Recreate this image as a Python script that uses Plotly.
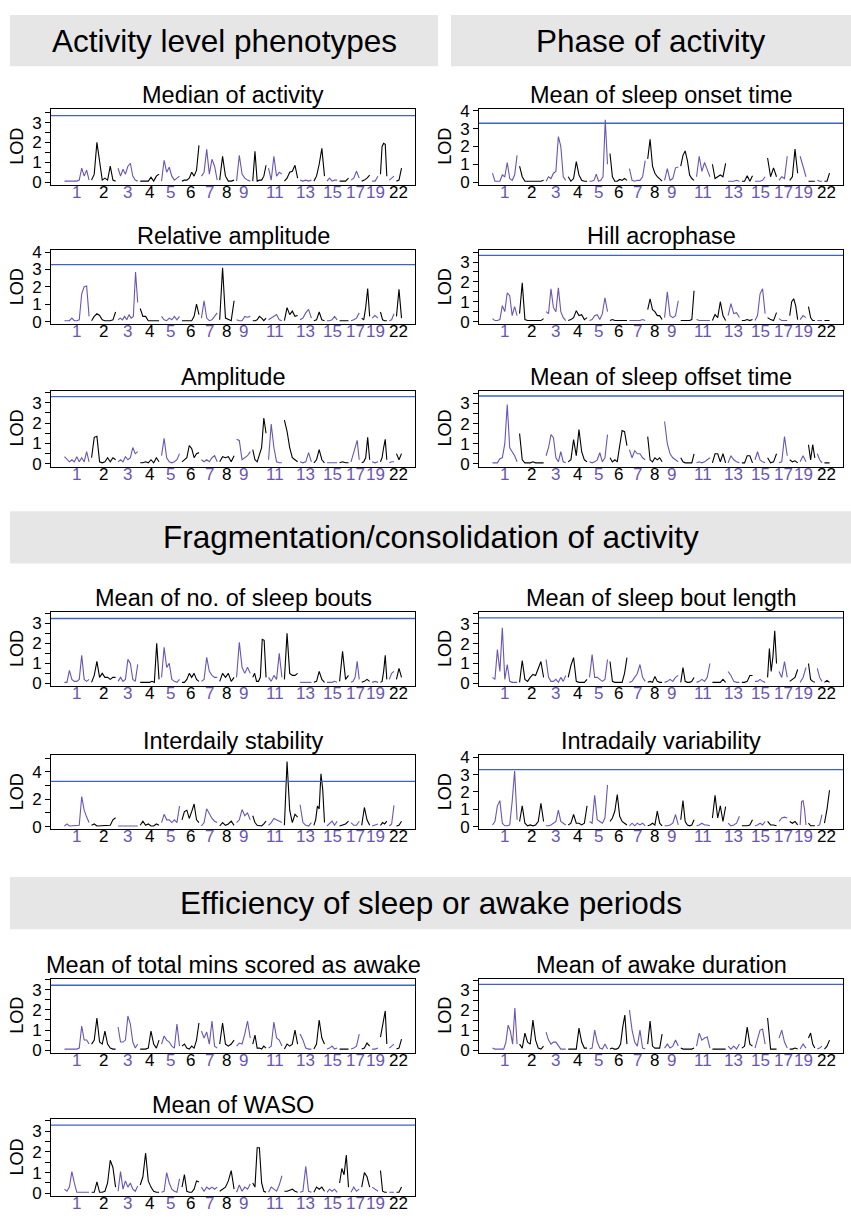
import plotly.graph_objects as go
import numpy as np

# ---------------- data ----------------
chrom_names = [str(i) for i in range(1, 23)]
chrom_len = [248, 242, 198, 190, 181, 171, 159, 145, 138, 134, 135, 133,
             114, 107, 102, 90, 83, 80, 59, 64, 47, 51]
shown_labels = ["1", "2", "3", "4", "5", "6", "7", "8", "9", "11", "13",
                "15", "17", "19", "22"]
GAP = 25

median_activity = [
    [0.05,0.05,0.05,0.05,0.05,0.05,0.1,0.7,0.3,0.6,0.1],
    [0.1,0.4,2.0,0.9,0.1,0.2,0.1,0.8,0.1,0.05],
    [0.7,0.3,0.65,0.4,0.8,0.95,0.3,0.1,0.05],
    [0.05,0.05,0.05,0.05,0.25,0.05,0.3,0.4],
    [0.05,1.1,0.5,0.75,0.3,0.1,0.2,0.3],
    [0.05,0.1,0.1,0.2,0.5,0.3,0.6,1.85],
    [0.3,0.5,1.65,0.4,1.15,0.8,0.1],
    [0.1,1.3,0.3,0.05,0.05,0.1],
    [0.05,1.35,0.4,0.2,0.1,0.05],
    [0.05,1.55,0.05,0.1,0.1,0.3,0.85],
    [0.7,0.1,1.3,0.3,0.5,0.4],
    [0.05,0.2,0.5,0.55,0.85,0.2],
    [0.1,0.05,0.1,0.05,0.1],
    [0.05,0.3,0.9,1.7,0.3],
    [0.05,0.2,0.05,0.1,0.1],
    [0.05,0.05,0.05,0.2],
    [0.1,0.2,0.55,0.2],
    [0.05,0.1,0.2,0.35],
    [0.05,0.05,0.3],
    [0.4,1.8,1.95,1.9,0.3],
    [0.1,0.2,0.3],
    [0.05,0.1,0.7],
]

sleep_onset = [
    [0.5,0.05,0.05,0.05,0.4,0.3,1.1,0.2,0.1,0.4,1.5],
    [0.9,0.3,0.05,0.05,0.05,0.05,0.05,0.05,0.05,0.1],
    [0.05,0.3,0.2,0.5,0.6,2.55,2.0,0.3,0.1],
    [0.3,0.05,0.2,1.15,0.4,0.1,0.05,0.05],
    [0.05,0.05,0.1,0.45,0.05,0.1,0.3,3.5,1.0],
    [1.6,0.3,0.05,0.05,0.15,0.1,0.2,0.1],
    [0.75,0.1,0.05,0.1,0.1,0.3,1.2],
    [1.3,2.4,0.9,0.5,0.3,0.2,0.05],
    [0.1,0.75,0.1,0.2,0.8,0.85],
    [0.9,1.5,1.75,1.2,0.4,0.2,0.1],
    [0.3,1.45,0.6,1.1,0.7,0.3],
    [1.0,0.2,0.3,0.4,0.3,1.05],
    [0.05,0.05,0.05,0.1,0.05],
    [0.05,0.05,0.35,0.05,0.35],
    [0.05,0.05,0.05,0.1,0.3],
    [1.35,0.3,0.8,0.3],
    [0.1,0.3,0.2,1.45],
    [0.1,0.3,1.85,0.5],
    [1.45,0.8,0.3],
    [0.05,0.05,0.05,0.05],
    [0.1,0.05,0.05],
    [0.05,0.05,0.5],
]

relative_amplitude = [
    [0.05,0.05,0.05,0.2,0.05,0.05,0.1,1.6,2.0,2.05,0.3],
    [0.05,0.3,0.45,0.35,0.1,0.05,0.05,0.05,0.1,0.55],
    [0.1,0.2,0.1,0.3,0.1,0.4,0.2,0.3,2.85,1.1],
    [0.75,0.3,0.3,0.05,0.05,0.05,0.05,0.05],
    [0.3,0.1,0.05,0.2,0.1,0.3,0.1,0.3],
    [0.05,0.05,0.05,0.05,0.05,0.3,1.0,0.4],
    [0.2,1.2,0.2,0.05,0.1,0.3,0.5],
    [0.1,3.1,0.2,0.1,0.05,1.2],
    [0.1,0.05,0.05,0.3,0.25,0.3],
    [0.05,0.05,0.1,0.3,0.2,0.05,0.2],
    [0.1,0.2,0.3,0.4,0.1,0.05],
    [0.05,0.8,0.4,0.6,0.3,0.35],
    [0.1,0.2,0.5,0.7,0.2],
    [0.05,0.1,0.55,0.1,0.05],
    [0.05,0.05,0.1,0.3,0.1],
    [0.05,0.05,0.05,0.05],
    [0.05,0.1,0.2,0.5],
    [0.2,0.1,0.8,1.9,0.3],
    [0.2,0.35,0.2],
    [0.55,0.1,0.05,0.05],
    [0.05,0.1,0.45],
    [0.3,1.85,0.2],
]

hill_acrophase = [
    [0.15,0.05,0.05,0.1,0.8,0.5,1.45,1.3,0.3,0.75,0.3],
    [0.4,1.95,0.1,0.05,0.05,0.05,0.05,0.05,0.05,0.15],
    [0.5,0.4,1.65,0.7,0.5,1.7,0.5,0.2,0.05],
    [0.05,0.1,0.2,0.55,0.3,0.35,0.1,0.2],
    [0.05,0.1,0.3,0.35,0.1,0.4,1.2,0.5],
    [0.05,0.1,0.05,0.05,0.05,0.05,0.05,0.05],
    [0.05,0.05,0.05,0.05,0.05,0.1,0.05],
    [0.6,1.15,0.6,0.5,0.3,0.3,0.1],
    [0.2,1.5,0.3,0.2,0.3,1.05],
    [0.05,0.05,0.05,0.05,0.05,0.1,1.55],
    [0.1,0.05,0.05,0.05,0.05,0.05],
    [0.05,0.35,0.2,1.0,0.3,0.05],
    [0.3,0.9,0.4,0.45,0.2],
    [0.05,0.05,0.1,0.05,0.1],
    [0.05,0.3,1.4,1.65,0.4],
    [0.2,0.1,0.05,0.45],
    [0.15,0.05,0.05,0.05],
    [0.3,1.0,1.15,0.8,0.1],
    [0.1,0.3,0.2],
    [0.75,0.2,0.05,0.05],
    [0.05,0.05,0.05],
    [0.05,0.05,0.05],
]

amplitude = [
    [0.35,0.2,0.1,0.2,0.1,0.35,0.1,0.3,0.1,0.6,0.1],
    [0.3,1.3,1.35,0.1,0.05,0.1,0.3,0.1,0.3,0.2],
    [0.1,0.2,0.1,0.35,0.2,0.3,0.8,0.5,0.6],
    [0.05,0.05,0.1,0.05,0.2,0.05,0.3,0.1],
    [0.4,1.25,0.3,0.1,0.05,0.1,0.2,0.5],
    [0.1,0.2,0.3,0.9,0.75,0.3,0.5,0.55],
    [0.2,0.1,0.2,0.1,0.3,0.4,0.1],
    [0.1,0.35,0.3,0.35,0.1,0.4],
    [1.2,1.15,0.2,0.3,0.4,0.6],
    [0.7,0.2,0.1,0.4,0.8,2.25,1.5],
    [0.2,1.95,0.8,0.1,0.05,0.05],
    [2.15,1.6,0.8,0.3,0.2,0.1],
    [0.1,0.05,0.1,0.55,0.1],
    [0.05,0.2,0.7,0.2,0.05],
    [0.05,0.05,0.05,0.05,0.05],
    [0.05,0.1,0.05,0.05],
    [0.1,0.4,0.8,1.15,0.2],
    [0.05,0.1,0.3,1.3,0.2],
    [0.1,0.05,0.1],
    [0.1,0.3,0.8,1.2,0.2],
    [0.05,0.1,0.1],
    [0.5,0.2,0.5],
]

sleep_offset = [
    [0.05,0.05,0.05,0.25,0.3,1.0,2.95,0.8,0.6,0.4,0.1],
    [1.5,0.2,0.05,0.05,0.05,0.1,0.05,0.05,0.05,0.05],
    [0.4,0.8,1.45,1.3,0.3,0.1,0.6,0.1,0.05],
    [0.1,0.2,1.2,0.4,1.7,0.6,0.2,0.1],
    [0.1,0.05,0.1,0.2,0.55,0.1,0.3,1.45],
    [0.3,0.1,0.2,0.1,0.9,1.65,1.6,0.9],
    [0.7,0.3,0.65,0.5,0.5,0.3,0.2],
    [1.35,0.2,0.1,0.3,0.2,0.3,0.1],
    [2.1,1.0,0.5,0.3,0.2,0.1],
    [0.3,0.1,0.05,0.05,0.05,0.05,0.5],
    [0.05,0.1,0.05,0.1,0.2,0.3],
    [0.05,0.5,0.5,0.1,0.5,0.05],
    [0.05,0.4,0.2,0.1,0.05],
    [0.05,0.05,0.4,0.4,0.05],
    [0.2,0.6,0.2,0.1,0.05],
    [0.3,0.05,0.1,0.5],
    [0.05,0.1,1.35,0.4],
    [0.2,0.1,0.15,0.05],
    [0.1,0.4,0.1],
    [0.95,0.2,0.95,0.3],
    [0.5,0.2,0.05],
    [0.05,0.05,0.05],
]

sleep_bouts = [
    [0.05,0.05,0.65,0.2,0.1,0.1,0.2,1.4,0.2,0.1,0.2],
    [0.05,0.4,1.1,0.3,0.5,0.3,0.3,0.2,0.3,0.3],
    [0.1,0.3,0.1,0.2,1.2,1.0,0.2,0.1,0.95],
    [0.05,0.05,0.05,0.05,0.05,0.1,0.05,2.0,0.2],
    [0.3,1.8,0.8,1.0,0.2,0.1,0.05,0.2],
    [0.05,0.05,0.2,0.5,0.3,0.5,0.2,0.1],
    [0.1,0.2,1.3,0.6,0.4,0.3,0.3],
    [0.1,0.5,0.3,0.5,0.1,0.3],
    [0.3,2.05,0.8,0.5,0.8,0.5],
    [0.3,0.5,0.1,0.1,0.3,2.2,2.15,0.3],
    [0.3,0.1,0.4,0.2,1.5,0.3],
    [0.2,2.5,0.5,0.4,0.4,0.5],
    [0.05,0.05,0.05,0.05,0.05],
    [0.05,0.1,0.6,0.2,0.05],
    [0.05,0.05,0.05,0.1,0.05],
    [0.1,1.6,0.2,0.4],
    [0.05,0.1,0.3,1.1,0.2],
    [0.05,0.1,0.2,0.1],
    [0.05,0.1,0.05],
    [0.05,0.1,0.6,1.4,0.2],
    [0.2,0.5,0.6],
    [0.2,0.75,0.3],
]

sleep_bout_length = [
    [0.3,0.2,1.7,0.6,2.8,0.2,0.95,0.1,0.05,0.05,0.05],
    [0.05,1.15,0.2,0.1,0.3,0.45,0.4,0.8,1.1,0.3],
    [1.2,0.3,0.1,0.1,0.2,0.05,0.3,0.1,0.4],
    [0.3,0.9,1.3,0.1,0.05,0.05,0.05,0.2],
    [0.3,1.45,0.3,0.3,0.2,0.1,0.2,1.2],
    [1.1,0.1,0.05,0.05,0.05,0.05,0.5,1.3],
    [0.05,0.1,0.3,0.5,0.95,0.3,0.1],
    [0.05,0.1,0.05,0.35,0.1,0.05,0.05],
    [0.05,0.1,0.2,0.1,0.3,0.4],
    [0.05,0.8,0.1,0.05,0.05,0.1,0.3],
    [0.05,0.1,0.2,0.1,0.3,1.0],
    [0.05,0.05,0.05,0.05,0.2,0.05],
    [0.6,0.4,0.1,0.05,0.05],
    [0.05,0.05,0.1,0.4,0.4],
    [0.1,0.1,0.2,0.1,0.05],
    [0.3,1.75,0.6,1.35,2.65,1.0],
    [0.6,0.3,1.1,0.3],
    [0.1,0.2,0.3,0.7],
    [0.05,0.3,0.8],
    [1.0,0.2,0.1,0.05],
    [0.75,0.3,0.1],
    [0.05,0.15,0.05],
]

interdaily_stability = [
    [0.05,0.2,0.05,0.05,0.05,0.05,0.1,2.2,1.2,0.7,0.3],
    [0.1,0.2,0.05,0.05,0.05,0.05,0.05,0.1,0.5,0.65],
    [0.05,0.05,0.05,0.05,0.05,0.05,0.05,0.1,0.05],
    [0.1,0.4,0.1,0.2,0.05,0.05,0.2,0.1],
    [0.3,0.9,0.5,0.5,0.3,0.5,0.3,1.5],
    [0.5,1.1,1.2,0.6,1.1,1.65,0.5,0.3],
    [0.05,0.3,1.3,0.9,0.6,0.4,0.3],
    [0.05,0.3,0.1,0.2,0.4,0.1],
    [0.3,0.5,1.25,0.8,1.0,0.5],
    [0.8,0.3,0.1,0.1,0.05,0.2,0.4],
    [0.1,0.3,0.6,0.5,0.4,0.3],
    [0.1,4.75,1.2,0.3,0.9,0.7],
    [1.6,0.3,0.1,0.05,0.3],
    [0.1,0.5,1.5,1.3,3.85,2.7,0.3],
    [0.05,0.2,0.4,0.1,0.4],
    [0.05,0.1,0.2,0.4],
    [0.3,0.1,0.1,0.4],
    [0.1,1.4,0.5,0.1],
    [0.05,0.1,0.2],
    [0.1,0.3,0.2,0.4],
    [0.05,0.2,1.55],
    [0.05,0.1,0.4],
]

intradaily_variability = [
    [0.1,0.3,1.2,1.5,0.2,0.05,0.05,0.1,1.45,3.2,0.4],
    [0.3,1.2,0.2,0.05,0.1,0.05,0.1,0.3,1.35,0.3],
    [0.05,0.05,0.1,0.2,0.3,0.95,0.3,0.2,0.1],
    [0.1,0.2,0.7,0.2,0.2,0.1,0.2,1.2],
    [0.3,0.2,1.8,0.4,0.3,0.2,0.5,2.4],
    [0.3,0.5,0.9,1.85,0.6,0.3,0.2,0.1],
    [0.05,0.2,0.05,0.2,0.1,0.2,0.05],
    [0.05,0.1,0.2,0.1,0.9,0.2,0.05],
    [0.05,0.05,0.1,0.2,0.7,0.1],
    [0.4,1.5,0.3,0.1,0.05,0.1,0.4],
    [0.05,0.1,0.2,0.1,0.1,0.05],
    [0.5,1.8,0.5,1.2,0.3,1.15],
    [0.2,0.05,0.1,0.2,0.6],
    [0.05,0.05,0.05,0.1,0.4],
    [0.05,0.1,0.2,0.1,0.3],
    [0.3,0.1,0.1,0.05],
    [0.3,0.5,0.55,0.5],
    [0.3,0.2,0.3,0.1],
    [0.1,1.45,1.5,1.0,0.1],
    [0.2,0.05,0.05,0.05],
    [0.05,0.1,0.7],
    [0.2,1.0,2.1],
]

mins_awake = [
    [0.05,0.05,0.05,0.05,0.05,0.05,0.1,1.2,0.5,0.5,0.3],
    [0.3,0.5,1.6,0.4,0.3,0.95,0.3,0.1,0.05,0.05],
    [1.15,0.4,0.4,0.5,1.7,1.3,0.4,0.1,0.3],
    [0.05,0.05,0.05,0.1,0.95,0.3,0.1,0.5],
    [0.3,0.7,0.5,0.4,0.2,0.1,1.3,0.2],
    [0.2,0.3,0.1,0.05,0.2,0.1,0.5,1.35],
    [0.95,0.6,0.9,0.3,1.45,0.2,0.1],
    [0.3,1.35,0.3,0.2,0.3,0.5],
    [0.2,0.35,0.3,0.8,1.45,0.6],
    [0.3,0.75,0.1,0.1,0.05,0.2,0.1],
    [0.1,0.2,1.4,0.6,0.5,0.2],
    [0.05,0.3,0.2,0.3,1.0,0.3],
    [0.8,0.5,0.1,0.05,0.05],
    [0.05,0.3,1.5,0.6,0.3],
    [0.05,0.1,0.2,0.05,0.1],
    [0.05,0.05,0.05,0.05],
    [0.05,0.1,0.2,0.8],
    [0.05,0.1,0.35,0.2],
    [0.05,0.05,0.1],
    [0.65,1.1,1.5,1.95,0.3],
    [0.1,0.2,0.3],
    [0.05,0.1,0.55],
]

awake_duration = [
    [0.1,0.05,0.05,0.05,0.05,0.05,0.4,1.25,0.95,0.3,2.1,0.3],
    [0.3,0.1,0.85,0.4,0.3,1.5,0.5,0.1,0.05,0.2],
    [0.9,0.5,0.3,0.4,0.4,0.2,0.05,0.05,0.05],
    [0.05,0.05,0.05,0.05,1.1,0.4,0.1,0.1],
    [0.05,0.1,1.0,0.4,0.1,0.05,0.3,0.05],
    [0.05,0.1,0.05,0.05,0.1,0.3,1.15,1.75,0.3],
    [2.0,1.0,0.4,0.2,1.0,0.1,0.05],
    [0.3,1.45,0.2,0.1,0.1,0.1,0.8],
    [0.1,0.3,0.1,0.2,0.5,0.2],
    [0.1,0.05,0.05,0.05,0.05,0.05,0.1],
    [0.2,0.85,0.5,0.6,0.65,0.1],
    [0.05,0.05,0.05,0.05,0.05,0.05],
    [0.2,0.05,0.2,0.05,0.3],
    [0.1,0.2,1.15,0.3,0.2],
    [0.1,0.5,1.0,1.05,0.3],
    [1.6,0.05,0.05,0.05],
    [0.6,1.0,0.4,0.1],
    [0.05,0.05,0.1,0.05],
    [0.05,0.3,0.1],
    [0.6,0.85,0.3,0.1],
    [0.05,0.1,0.2],
    [0.05,0.2,0.5],
]

waso = [
    [0.2,0.1,0.3,1.05,0.5,0.05,0.05,0.05,0.05,0.05,0.05],
    [0.05,0.05,0.55,0.05,0.05,0.1,0.5,1.6,1.25,0.3],
    [0.1,1.05,0.2,0.6,0.3,0.5,0.2,0.1,0.35],
    [0.4,0.8,1.95,0.6,0.3,0.1,0.05,0.05],
    [0.05,0.1,1.0,0.5,0.2,0.1,0.05,0.7],
    [0.3,0.9,0.1,0.05,0.05,0.2,0.6,0.55],
    [0.3,0.1,0.3,0.2,0.3,0.2,0.3],
    [0.1,0.2,0.3,0.6,1.1,0.2],
    [0.05,0.4,0.1,0.3,0.2,0.45],
    [0.5,0.3,2.2,2.2,0.5,0.1,0.05],
    [0.05,0.3,0.2,0.1,0.4,0.85],
    [0.1,0.1,0.15,0.2,0.1,0.05],
    [0.05,0.1,1.3,0.1,0.05],
    [0.05,0.3,0.2,0.3,0.1],
    [0.05,0.2,0.1,0.2,0.05],
    [0.5,1.2,0.9,1.85,0.3],
    [0.05,0.3,0.1,0.2],
    [0.3,1.0,0.8,0.3],
    [0.3,0.2,0.1],
    [1.1,0.1,0.05,0.05],
    [0.05,0.05,0.05],
    [0.05,0.05,0.3],
]

titles = ["Median of activity", "Mean of sleep onset time",
          "Relative amplitude", "Hill acrophase",
          "Amplitude", "Mean of sleep offset time",
          "Mean of no. of sleep bouts", "Mean of sleep bout length",
          "Interdaily stability", "Intradaily variability",
          "Mean of total mins scored as awake", "Mean of awake duration",
          "Mean of WASO"]
thresholds = [3.35, 3.3, 3.28, 3.34, 3.3, 3.37, 3.24, 3.3, 3.3, 3.28, 3.23, 3.28, 3.3]
ylim_top = [3.55, 3.95, 3.95, 3.46, 3.46, 3.5, 3.43, 3.46, 5.0, 3.95, 3.42, 3.43, 3.45]

section_titles = ["Activity level phenotypes", "Phase of activity",
                  "Fragmentation/consolidation of activity",
                  "Efficiency of sleep or awake periods"]

# ---------------- layout helpers ----------------
W, H = 851, 1218
PURPLE = "#6b55b3"
BLUE = "#3f63c4"
FONT = "Liberation Sans, Arial, sans-serif"

series = [median_activity, sleep_onset, relative_amplitude, hill_acrophase,
          amplitude, sleep_offset, sleep_bouts, sleep_bout_length,
          interdaily_stability, intradaily_variability, mins_awake,
          awake_duration, waso]

col_px = [(51, 415), (479, 843)]
row_px = [(103, 180), (246, 321), (388, 465), (612, 687), (757, 832),
          (983, 1058), (1125, 1203)]


def px(x):
    return x / W


def py(y):
    return 1 - y / H


starts = np.concatenate([[0], np.cumsum(np.array(chrom_len) + GAP)[:-1]])
total = starts[-1] + chrom_len[-1]
mids = starts + np.array(chrom_len) / 2.0
xr = [-0.04 * total, total * 1.04]

fig = go.Figure()
layout = {}
annotations = []
shapes = []

for k, data in enumerate(series):
    idx = k + 1
    sfx = "" if idx == 1 else str(idx)
    r, c = k // 2, k % 2
    x0, x1 = col_px[c]
    t, b = row_px[r]
    xs = {0: [], 1: []}
    ys = {0: [], 1: []}
    for i, vals in enumerate(data):
        pos = np.linspace(starts[i], starts[i] + chrom_len[i], len(vals))
        par = i % 2
        xs[par] += [float(v) for v in pos] + [None]
        ys[par] += list(vals) + [None]
    for par, col in [(0, PURPLE), (1, "black")]:
        fig.add_trace(go.Scatter(x=xs[par], y=ys[par], mode="lines",
                                 line=dict(color=col, width=1.1),
                                 xaxis=f"x{sfx}", yaxis=f"y{sfx}",
                                 showlegend=False, hoverinfo="skip"))
    top = ylim_top[k]
    if top >= 4.5:
        yt = [0, 1, 2, 3, 4, 5]
        ytt = ["0", "", "2", "", "4", ""]
    elif top >= 3.9:
        yt = [0, 1, 2, 3, 4]
        ytt = ["0", "1", "2", "3", "4"]
    else:
        yt = [0, 0.5, 1, 1.5, 2, 2.5, 3, 3.5]
        ytt = ["0", "", "1", "", "2", "", "3", ""]
    layout[f"xaxis{sfx}"] = dict(
        domain=[px(x0), px(x1)], range=xr, anchor=f"y{sfx}",
        showline=True, mirror=True, linecolor="black", linewidth=1,
        showgrid=False, zeroline=False, ticks="", showticklabels=False,
        fixedrange=True)
    layout[f"yaxis{sfx}"] = dict(
        domain=[py(b), py(t)], range=[-0.04 * top, 1.04 * top],
        anchor=f"x{sfx}", showline=True, mirror=True, linecolor="black",
        linewidth=1, showgrid=False, zeroline=False, ticks="outside",
        ticklen=5, tickwidth=1, tickcolor="black",
        tickmode="array", tickvals=yt, ticktext=ytt,
        tickfont=dict(size=17, color="black", family=FONT), fixedrange=True)
    shapes.append(dict(type="line", xref=f"x{sfx} domain", yref=f"y{sfx}",
                       x0=0, x1=1, y0=thresholds[k], y1=thresholds[k],
                       line=dict(color=BLUE, width=1.3)))
    # chromosome labels
    for i, name in enumerate(chrom_names):
        if name in shown_labels:
            annotations.append(dict(
                text=name, x=float(mids[i]), xref=f"x{sfx}",
                y=py(b - 4), yref="paper", showarrow=False,
                xanchor="center", yanchor="top",
                font=dict(size=17, family=FONT,
                          color=PURPLE if i % 2 == 0 else "black")))
    annotations.append(dict(text=titles[k], x=px((x0 + x1) / 2), y=py(t - 14),
                            xref="paper", yref="paper", showarrow=False,
                            xanchor="center", yanchor="middle",
                            font=dict(size=23.5, color="black", family=FONT)))
    annotations.append(dict(text="LOD", x=px(x0 - 34), y=py((t + b) / 2),
                            xref="paper", yref="paper", showarrow=False,
                            textangle=-90, xanchor="center", yanchor="middle",
                            font=dict(size=18, color="black", family=FONT)))

# section header boxes
boxes = [(10, 438, 8, 60), (451, 851, 8, 60), (10, 851, 510, 563), (10, 851, 880, 933)]
for (bx0, bx1, by0, by1), txt in zip(boxes, section_titles):
    shapes.append(dict(type="rect", xref="paper", yref="paper",
                       x0=px(bx0), x1=px(bx1), y0=py(by1), y1=py(by0),
                       fillcolor="#e6e6e6", line=dict(width=0), layer="below"))
    annotations.append(dict(text=txt, x=px((bx0 + bx1) / 2), y=py((by0 + by1) / 2),
                            xref="paper", yref="paper", showarrow=False,
                            xanchor="center", yanchor="middle",
                            font=dict(size=31.5, color="black", family=FONT)))

fig.update_layout(**layout)
fig.update_layout(width=W, height=H, margin=dict(l=0, r=0, t=0, b=0),
                  paper_bgcolor="white", plot_bgcolor="white",
                  annotations=annotations, shapes=shapes,
                  font=dict(family=FONT, color="black"), showlegend=False)

POST = (
    "document.documentElement.style.margin='0';"
    "document.documentElement.style.padding='0';"
    "document.documentElement.style.overflow='hidden';"
    "document.body.style.margin='0';"
    "document.body.style.padding='0';"
    "document.body.style.overflow='hidden';"
    "var d=document.getElementById('{plot_id}');"
    "d.style.position='absolute';d.style.left='0px';d.style.top='0px';"
)

fig.write_html("out.html", config={"displayModeBar": False}, post_script=POST)
